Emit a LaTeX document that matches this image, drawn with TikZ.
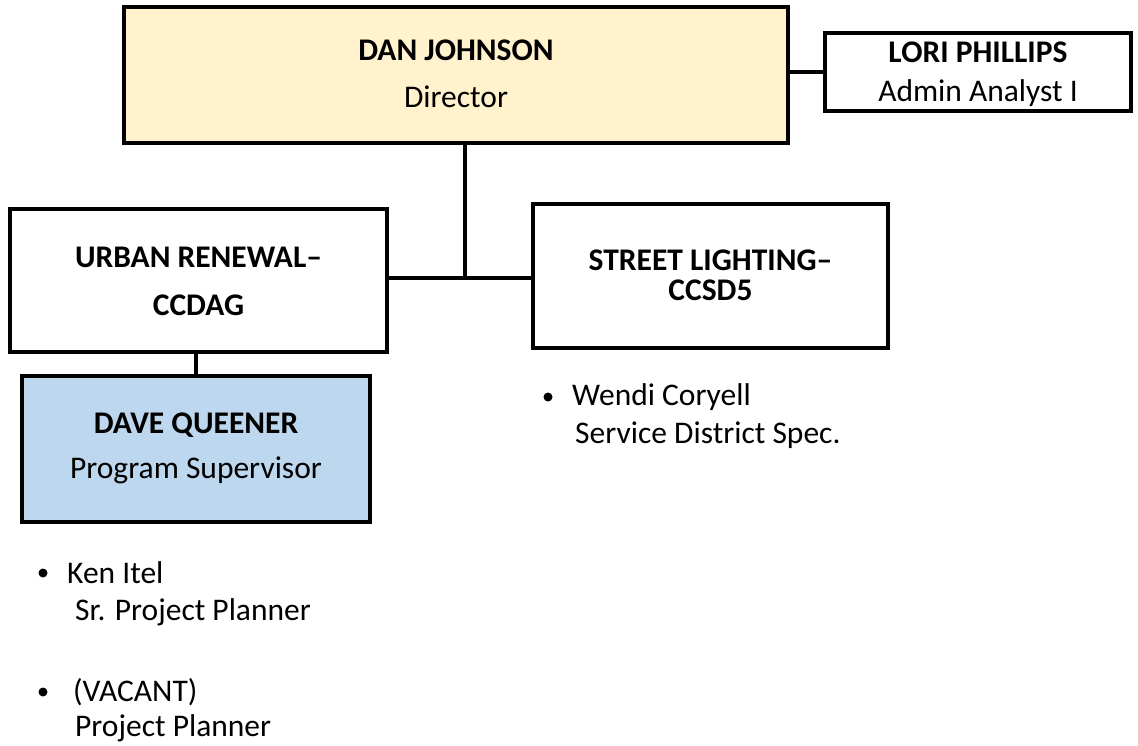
\documentclass[tikz,border=0pt]{standalone}
\usepackage{fontspec}
\setmainfont{Carlito}
\definecolor{cream}{HTML}{FFF2CC}
\definecolor{lblue}{HTML}{BDD7EE}
\begin{document}
\begin{tikzpicture}[x=1pt,y=-1pt,
  orgbox/.style={draw=black,line width=4.5pt,rectangle,align=center,inner sep=0pt},
  wire/.style={draw=black,line width=4pt},
  txt/.style={font=\fontsize{31.5}{36}\selectfont,inner sep=0pt},
  btxt/.style={font=\fontsize{31.5}{36}\selectfont\bfseries,inner sep=0pt},
  itemtxt/.style={font=\fontsize{31.5}{36}\selectfont,inner sep=0pt,anchor=west},
  dot/.style={circle,fill=black,inner sep=0pt,minimum size=9pt}]
\useasboundingbox (0,0) rectangle (1138,746);
% boxes
\node[orgbox,fill=cream,minimum width=664pt,minimum height=136pt] (dir) at (456,75) {};
\node[btxt] (dirn) at (456,50) {DAN JOHNSON};
\node[txt] (dirt) at (456,97) {Director};
\node[orgbox,fill=white,minimum width=306pt,minimum height=78pt] (lori) at (978,72) {};
\node[btxt] (lorin) at (978,52) {LORI PHILLIPS};
\node[txt] (lorit) at (978,93) {Admin Analyst I};
\node[orgbox,fill=white,minimum width=377pt,minimum height=143pt] (ur) at (198.5,280.5) {};
\node[btxt] (urn) at (198.5,257) {URBAN RENEWAL–};
\node[btxt] (urt) at (198.5,305) {CCDAG};
\node[orgbox,fill=white,minimum width=355pt,minimum height=144pt] (sl) at (710.5,276) {};
\node[btxt] (sln) at (710.5,260) {STREET LIGHTING–};
\node[btxt] (slt) at (710.5,290) {CCSD5};
\node[orgbox,fill=lblue,minimum width=348pt,minimum height=146pt] (dq) at (196,449) {};
\node[btxt] (dqn) at (196,425) {DAVE QUEENER};
\node[txt] (dqt) at (196,470) {Program Supervisor};
% connectors
\coordinate (j) at (465,278);
\draw[wire] (dir.south -| j) -- (j);
\draw[wire] (ur.east |- j) -- (sl.west |- j);
\draw[wire] (dir.east |- lori.west) -- (lori.west);
\draw[wire] (ur.south -| dq.north) -- (dq.north);
% bullet lists
\node[dot] (b1) at (548,397) {};
\node[itemtxt] (w1) at (572,397) {Wendi Coryell};
\node[itemtxt] (w2) at (575,435) {Service District Spec.};
\node[dot] (b2) at (43,573) {};
\node[itemtxt] (k1) at (67,573) {Ken Itel};
\node[itemtxt] (k2) at (75,612) {Sr. Project Planner};
\node[dot] (b3) at (43,692) {};
\node[itemtxt] (v1) at (73,692) {(VACANT)};
\node[itemtxt] (v2) at (75,728) {Project Planner};
\end{tikzpicture}
\end{document}
